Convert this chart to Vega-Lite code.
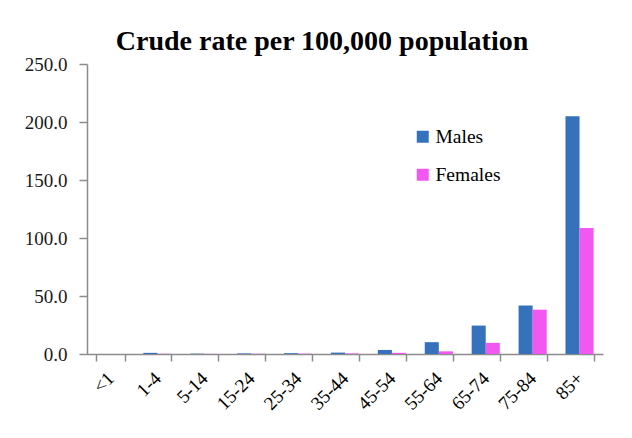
{
  "$schema": "https://vega.github.io/schema/vega-lite/v6.json",
  "width": 516,
  "height": 290,
  "autosize": {"type": "none"},
  "padding": {"left": 87, "top": 64, "right": 29, "bottom": 84},
  "background": "white",
  "title": {
    "text": "Crude rate per 100,000 population",
    "font": "Liberation Serif",
    "fontSize": 28,
    "fontWeight": "bold",
    "color": "#000000",
    "anchor": "middle",
    "dx": -23,
    "offset": -1
  },
  "data": {
    "values": [
      {"age": "<1", "sex": "Males", "rate": 0.0},
      {"age": "<1", "sex": "Females", "rate": 0.0},
      {"age": "1-4", "sex": "Males", "rate": 1.0},
      {"age": "1-4", "sex": "Females", "rate": 0.2},
      {"age": "5-14", "sex": "Males", "rate": 0.3},
      {"age": "5-14", "sex": "Females", "rate": 0.1},
      {"age": "15-24", "sex": "Males", "rate": 0.5},
      {"age": "15-24", "sex": "Females", "rate": 0.2},
      {"age": "25-34", "sex": "Males", "rate": 0.7},
      {"age": "25-34", "sex": "Females", "rate": 0.3},
      {"age": "35-44", "sex": "Males", "rate": 1.2},
      {"age": "35-44", "sex": "Females", "rate": 0.5},
      {"age": "45-54", "sex": "Males", "rate": 3.5},
      {"age": "45-54", "sex": "Females", "rate": 1.0},
      {"age": "55-64", "sex": "Males", "rate": 10.2},
      {"age": "55-64", "sex": "Females", "rate": 2.3},
      {"age": "65-74", "sex": "Males", "rate": 24.5},
      {"age": "65-74", "sex": "Females", "rate": 9.6},
      {"age": "75-84", "sex": "Males", "rate": 41.8},
      {"age": "75-84", "sex": "Females", "rate": 38.2},
      {"age": "85+", "sex": "Males", "rate": 205.0},
      {"age": "85+", "sex": "Females", "rate": 108.7}
    ]
  },
  "mark": {"type": "bar"},
  "encoding": {
    "x": {
      "field": "age",
      "type": "nominal",
      "sort": null,
      "scale": {"paddingInner": 0.4, "paddingOuter": 0.2},
      "axis": {
        "title": null,
        "labelAngle": -45,
        "labelAlign": "right",
        "labelBaseline": "middle",
        "labelFont": "Liberation Serif",
        "labelFontSize": 19,
        "labelColor": "#000000",
        "labelPadding": 14,
        "tickBand": "extent",
        "tickSize": 7,
        "tickColor": "#8c8c8c",
        "tickWidth": 1.5,
        "domainColor": "#8c8c8c",
        "domainWidth": 1.5,
        "grid": false
      }
    },
    "xOffset": {"field": "sex", "type": "nominal", "sort": ["Males", "Females"]},
    "y": {
      "field": "rate",
      "type": "quantitative",
      "scale": {"domain": [0, 250], "nice": false},
      "axis": {
        "title": null,
        "values": [0, 50, 100, 150, 200, 250],
        "format": ".1f",
        "labelFont": "Liberation Serif",
        "labelFontSize": 19,
        "labelColor": "#1a1a1a",
        "labelPadding": 12,
        "tickSize": 8,
        "tickColor": "#8c8c8c",
        "tickWidth": 1.5,
        "domainColor": "#8c8c8c",
        "domainWidth": 1.5,
        "grid": false
      }
    },
    "color": {
      "field": "sex",
      "type": "nominal",
      "sort": ["Males", "Females"],
      "scale": {"domain": ["Males", "Females"], "range": ["#3672BB", "#F257F2"]},
      "legend": {
        "title": null,
        "orient": "none",
        "legendX": 326,
        "legendY": 63,
        "symbolType": "square",
        "symbolSize": 144,
        "symbolStrokeWidth": 0,
        "labelFont": "Liberation Serif",
        "labelFontSize": 19.5,
        "labelColor": "#000000",
        "labelOffset": 3,
        "rowPadding": 17
      }
    }
  },
  "config": {"view": {"stroke": null}}
}
